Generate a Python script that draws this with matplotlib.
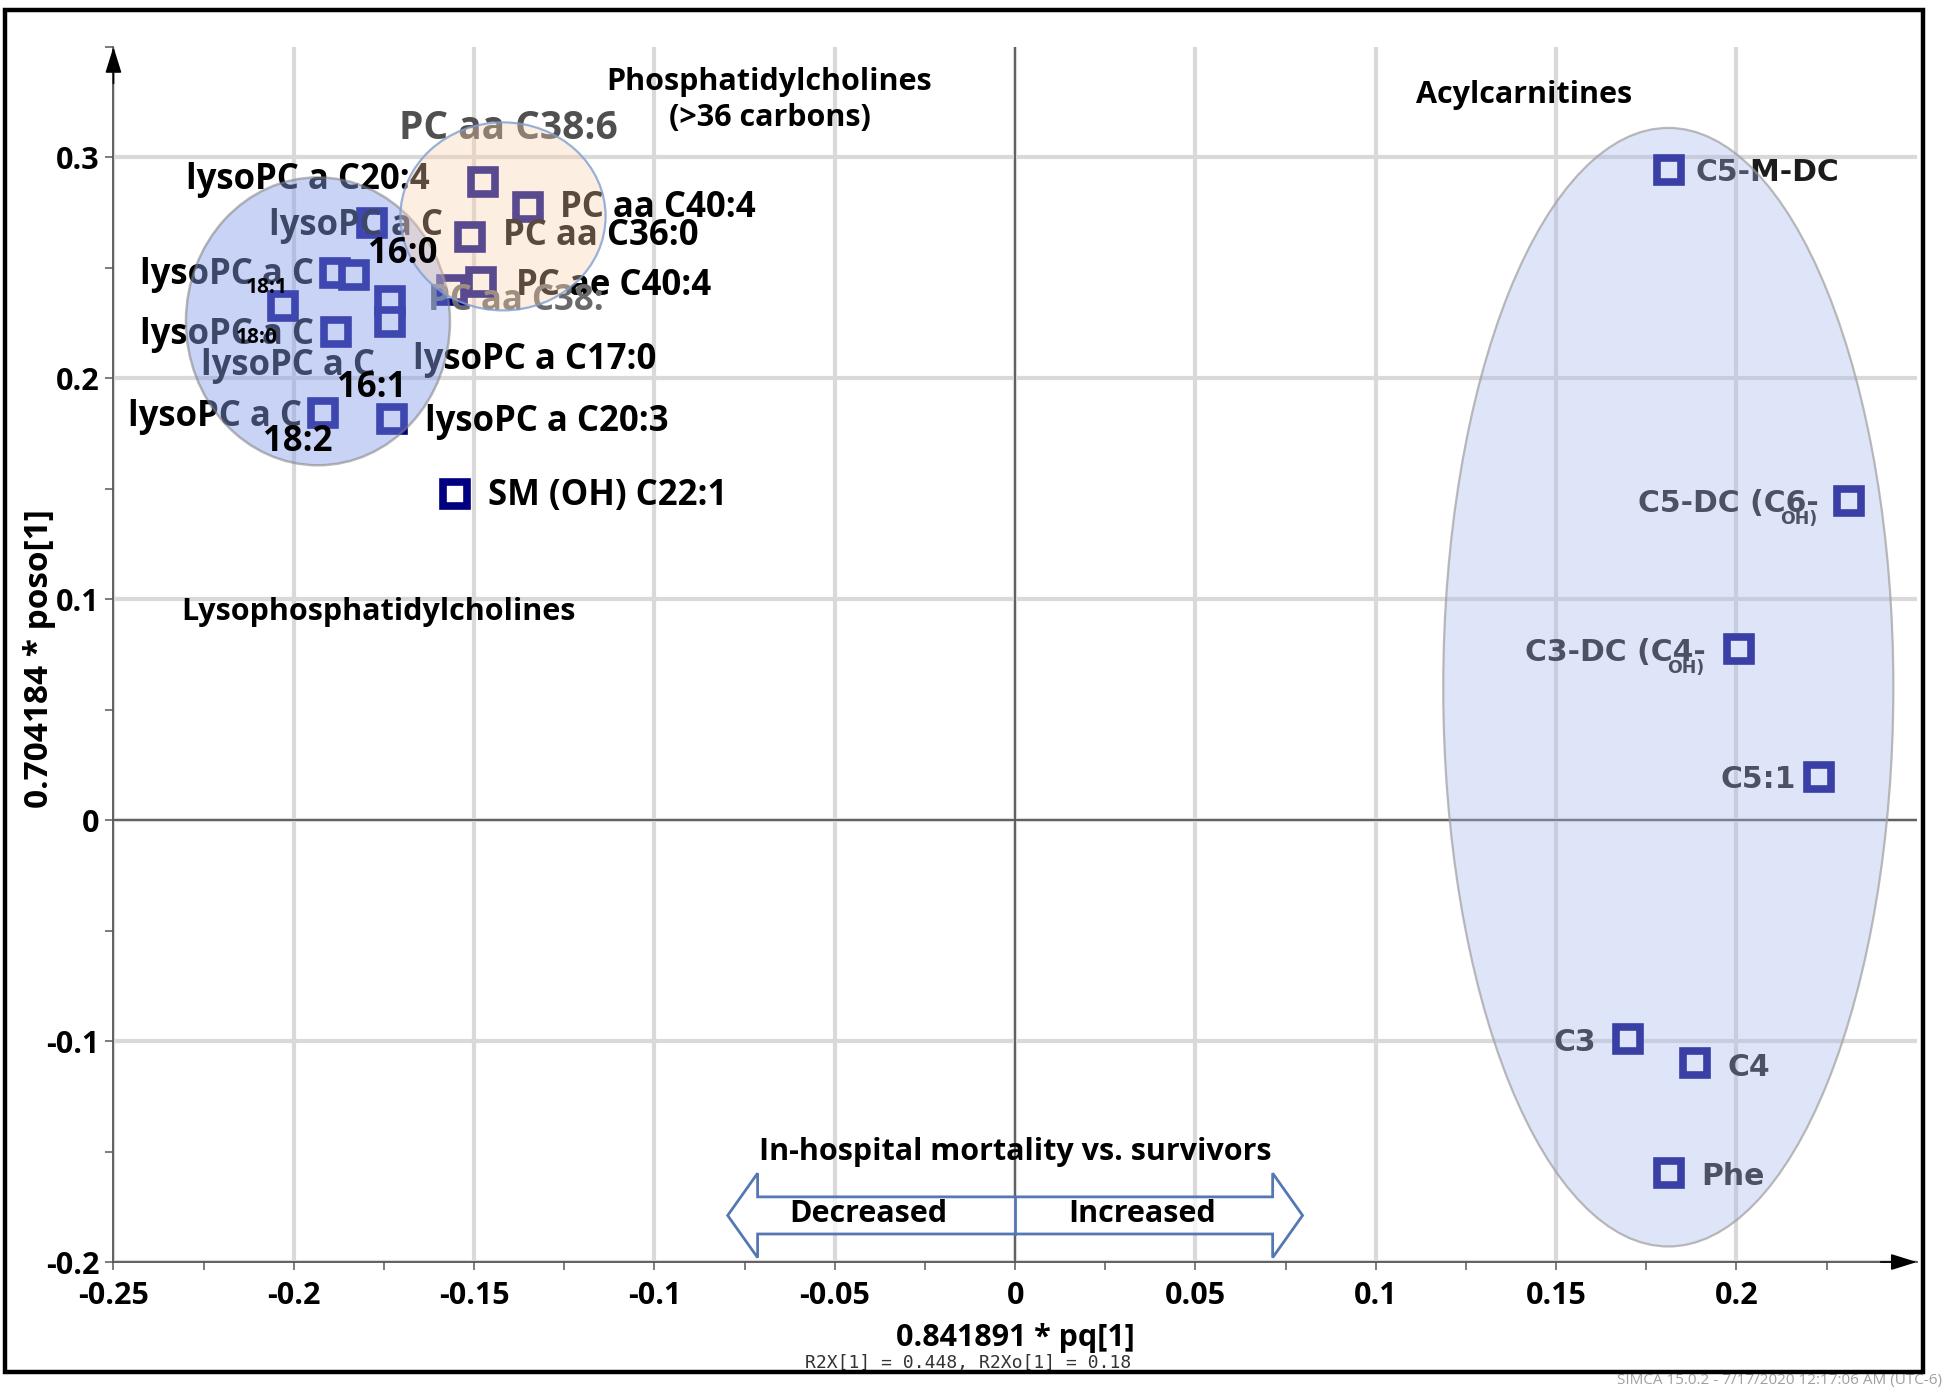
import numpy as np
import matplotlib
matplotlib.use("Agg")
import matplotlib.pyplot as plt
from matplotlib.patches import Ellipse, Polygon, Rectangle
from matplotlib.ticker import FixedLocator, MultipleLocator

plt.rcParams['axes.unicode_minus'] = False
OS = 'Open Sans'
DV = 'DejaVu Sans'

# ---- data ----
# lysophosphatidylcholines
lyso_x = [-0.1783, -0.1886, -0.1834, -0.2030, -0.1734, -0.1734, -0.1882, -0.1920, -0.1727]
lyso_y = [0.2702, 0.2478, 0.2466, 0.2326, 0.2348, 0.2253, 0.2208, 0.1843, 0.1815]
# phosphatidylcholines (>36 carbons)
pc_x = [-0.1476, -0.1352, -0.1511, -0.1480, -0.1560]
pc_y = [0.2888, 0.2775, 0.2640, 0.2438, 0.2399]
# acylcarnitines + Phe
acyl_names = ['C5-M-DC', 'C5-DC (C6-OH)', 'C3-DC (C4-OH)', 'C5:1', 'C3', 'C4', 'Phe']
acyl_x = [0.1813, 0.2312, 0.2006, 0.2230, 0.1700, 0.1886, 0.1813]
acyl_y = [0.2944, 0.1444, 0.0775, 0.0197, -0.0989, -0.1100, -0.1596]
# sphingomyelin
sm_x = [-0.1552]
sm_y = [0.1478]

xticks = [-0.25, -0.2, -0.15, -0.1, -0.05, 0, 0.05, 0.1, 0.15, 0.2]
xticklabels = ['-0.25', '-0.2', '-0.15', '-0.1', '-0.05', '0', '0.05', '0.1', '0.15', '0.2']
yticks = [-0.2, -0.1, 0, 0.1, 0.2, 0.3]
yticklabels = ['-0.2', '-0.1', '0', '0.1', '0.2', '0.3']

# ---- figure ----
fig = plt.figure(figsize=(19.46, 13.89), dpi=100)
ax = fig.add_axes([0.0583, 0.0914, 0.9267, 0.8748])
ax.set_xlim(-0.25, 0.25)
ax.set_ylim(-0.2, 0.35)

ax.xaxis.set_major_locator(FixedLocator(xticks))
ax.set_xticklabels(xticklabels)
ax.xaxis.set_minor_locator(FixedLocator(np.arange(-0.225, 0.24, 0.05)))
ax.yaxis.set_major_locator(FixedLocator(yticks))
ax.set_yticklabels(yticklabels)
ax.yaxis.set_minor_locator(MultipleLocator(0.05))
for lab in ax.get_xticklabels() + ax.get_yticklabels():
    lab.set_fontfamily(OS)
    lab.set_fontweight('bold')
    lab.set_fontsize(22)
ax.tick_params(which='both', direction='out', length=6, width=1.2, color='#666666')
ax.tick_params(axis='x', pad=8)
ax.tick_params(axis='y', pad=4)

ax.grid(True, which='major', color='#d9d9d9', lw=3)
ax.set_axisbelow(True)
for s in ['top', 'right']:
    ax.spines[s].set_visible(False)
for s in ['left', 'bottom']:
    ax.spines[s].set_color('#555555')
    ax.spines[s].set_linewidth(1.3)
ax.axhline(0, color='#555555', lw=1.3, zorder=1)
ax.axvline(0, color='#555555', lw=1.3, zorder=1)

# axis arrows
arr = dict(arrowstyle='-|>,head_length=0.8,head_width=0.25', color='black', lw=1.2,
           mutation_scale=20, shrinkA=0, shrinkB=0)
ax.annotate('', xy=(0, 1), xytext=(0, 0.97), xycoords='axes fraction', arrowprops=arr)
ax.annotate('', xy=(1, 0), xytext=(0.98, 0), xycoords='axes fraction', arrowprops=arr)

# ---- markers ----
mk = dict(marker='s', ls='none', ms=17, mew=5.5, mec='#000080', mfc='white', zorder=2)
ax.plot(lyso_x, lyso_y, **mk)
ax.plot(pc_x, pc_y, **mk)
ax.plot(acyl_x, acyl_y, **mk)
ax.plot(sm_x, sm_y, **mk)

# ---- labels under the ellipses ----
def lab(x, y, s, size=25, color='black', fam=OS, z=2.5, ha='left'):
    ax.text(x, y, s, fontsize=size, fontweight='bold', family=fam, color=color,
            ha=ha, va='center', zorder=z)

lab(-0.1707, 0.3129, 'PC aa C38:6', 28, color='#505050')
lab(-0.2299, 0.2899, 'lysoPC a C20:4')
lab(-0.1263, 0.2770, 'PC aa C40:4')
lab(-0.2068, 0.2691, 'lysoPC a C')
lab(-0.1421, 0.2646, 'PC aa C36:0')
lab(-0.2426, 0.2466, 'lysoPC a C')
lab(-0.1383, 0.2416, 'PC ae C40:4')
lab(-0.1628, 0.2348, 'PC aa C38:', color='#6a6a6a')
lab(-0.2426, 0.2197, 'lysoPC a C')
lab(-0.2257, 0.2056, 'lysoPC a C')
lab(-0.1669, 0.2084, 'lysoPC a C17:0')
lab(-0.2460, 0.1826, 'lysoPC a C')
lab(-0.1635, 0.1803, 'lysoPC a C20:3')
lab(-0.1462, 0.1466, 'SM (OH) C22:1')

# acylcarnitine labels
acyl_c = '#1c1c1c'
lab(0.1886, 0.2933, 'C5-M-DC', 21.5, acyl_c, DV)
lab(0.1727, 0.1433, 'C5-DC (C6-', 21.5, acyl_c, DV)
lab(0.2122, 0.1362, 'OH)', 12.5, acyl_c, DV)
lab(0.1414, 0.0758, 'C3-DC (C4-', 21.5, acyl_c, DV)
lab(0.1809, 0.0687, 'OH)', 12.5, acyl_c, DV)
lab(0.1955, 0.0185, 'C5:1', 21.5, acyl_c, DV)
lab(0.1493, -0.1006, 'C3', 21.5, acyl_c, DV)
lab(0.1975, -0.1118, 'C4', 21.5, acyl_c, DV)
lab(0.1903, -0.1612, 'Phe', 21.5, acyl_c, DV)

# ---- group ellipses ----
ax.add_patch(Ellipse((-0.1933, 0.2258), 0.0732, 0.1303, fc=(0.537, 0.62, 0.914, 0.45),
                     ec=(0.5, 0.5, 0.5, 0.55), lw=1.8, zorder=3))
ax.add_patch(Ellipse((-0.1420, 0.2733), 0.0569, 0.0851, fc=(0.976, 0.816, 0.675, 0.36),
                     ec=(0.5, 0.62, 0.82, 0.8), lw=1.6, zorder=3))
ax.add_patch(Ellipse((0.1811, 0.0602), 0.1248, 0.5063, fc=(0.651, 0.718, 0.922, 0.35),
                     ec=(0.62, 0.62, 0.62, 0.7), lw=1.6, zorder=3))

# chain-length parts drawn on top
lab(-0.1793, 0.2562, '16:0', z=4)
lab(-0.2134, 0.2410, '18:1', 15, z=4)
lab(-0.2161, 0.2185, '18:0', 15, z=4)
lab(-0.1879, 0.1955, '16:1', z=4)
lab(-0.2085, 0.1713, '18:2', z=4)

# group titles
lab(-0.0681, 0.3343, 'Phosphatidylcholines', 22, ha='center', z=4)
lab(-0.0681, 0.3180, '(>36 carbons)', 22, ha='center', z=4)
lab(0.1111, 0.3281, 'Acylcarnitines', 22, z=4)
lab(-0.2312, 0.0944, 'Lysophosphatidylcholines', 22, z=4)

# ---- double arrow: decreased / increased ----
acx, acy = 0.0, -0.1789
half_len, head_len = 0.0797, 0.0083
shaft_h, head_h = 0.0084, 0.0191
verts = [(acx - half_len, acy),
         (acx - half_len + head_len, acy + head_h),
         (acx - half_len + head_len, acy + shaft_h),
         (acx + half_len - head_len, acy + shaft_h),
         (acx + half_len - head_len, acy + head_h),
         (acx + half_len, acy),
         (acx + half_len - head_len, acy - head_h),
         (acx + half_len - head_len, acy - shaft_h),
         (acx - half_len + head_len, acy - shaft_h),
         (acx - half_len + head_len, acy - head_h)]
ax.add_patch(Polygon(verts, closed=True, fc=(1, 1, 1, 0.7), ec='#5577b3', lw=2.0, zorder=4,
                     clip_on=False))
ax.plot([acx, acx], [acy - shaft_h, acy + shaft_h], color='#5577b3', lw=2, zorder=4)
lab(0.0, -0.1500, 'In-hospital mortality vs. survivors', 22, ha='center', z=5)
lab(-0.0406, -0.1781, 'Decreased', 22, ha='center', z=5)
lab(0.0351, -0.1781, 'Increased', 22, ha='center', z=5)

# ---- axis titles and footer ----
fig.text(0.5216, 0.0367, '0.841891 * pq[1]', fontsize=22, fontweight='bold', family=OS,
         ha='center', va='center')
fig.text(0.4975, 0.0187, 'R2X[1] = 0.448, R2Xo[1] = 0.18', fontsize=13, family='DejaVu Sans Mono',
         color='#333333', ha='center', va='center')
fig.text(0.0205, 0.526, '0.704184 * poso[1]', fontsize=24, fontweight='bold', family=OS,
         rotation=90, ha='center', va='center')
fig.text(0.998, 0.006, 'SIMCA 15.0.2 - 7/17/2020 12:17:06 AM (UTC-6)', fontsize=11,
         color='#a0a0a0', ha='right', va='center', family=OS)

# outer frame
fig.patches.append(Rectangle((0.0026, 0.0122), 0.9856, 0.9806, transform=fig.transFigure,
                             fill=False, ec='black', lw=3.2, zorder=10))

fig.savefig('out.png', dpi=100)
